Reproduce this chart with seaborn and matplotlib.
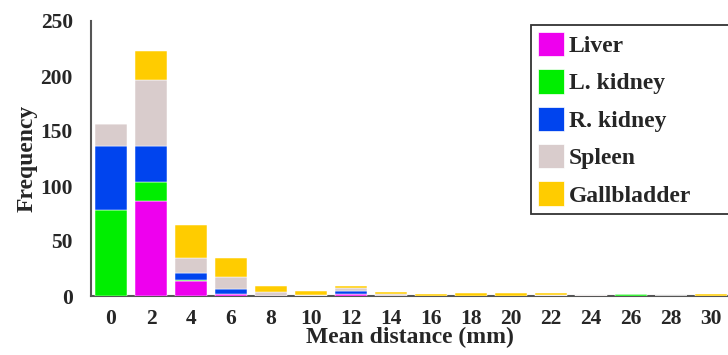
import matplotlib
matplotlib.use("Agg")
import matplotlib.pyplot as plt
from matplotlib.patches import Patch
import seaborn as sns
import pandas as pd

bins = [0, 2, 4, 6, 8, 10, 12, 14, 16, 18, 20, 22, 24, 26, 28, 30]
liver       = [0, 86, 14, 2, 0, 0, 2, 0, 0, 0, 0, 0, 0, 0, 0, 0]
l_kidney    = [78, 18, 1, 0, 0, 0, 0, 0, 0, 0, 0, 0, 0, 2, 0, 0]
r_kidney    = [58, 32, 6, 4, 0, 0, 3, 0, 0, 0, 0, 0, 0, 0, 0, 0]
spleen      = [20, 60, 14, 11, 4, 1, 2, 2, 0, 0, 0, 1, 1, 0, 0, 0]
gallbladder = [0, 27, 30, 18, 5, 4, 2, 2, 2, 3, 3, 2, 0, 0, 0, 2]

organs = ["Liver", "L. kidney", "R. kidney", "Spleen", "Gallbladder"]
colors = ["#EE00EE", "#00EE00", "#0044EE", "#D9CCCC", "#FFCC00"]
yticks = [0, 50, 100, 150, 200, 250]

rows = []
for name, vals in zip(organs, [liver, l_kidney, r_kidney, spleen, gallbladder]):
    for b, v in zip(bins, vals):
        rows.append({"bin": b, "count": v, "organ": name})
df = pd.DataFrame(rows)

sns.set_theme(style="white")
plt.rcParams["font.family"] = ["Liberation Serif", "DejaVu Serif"]
plt.rcParams["font.weight"] = "bold"

FS = 17
TFS = 15.5
fig = plt.figure(figsize=(7.28, 3.55), dpi=100)
ax = fig.add_axes([91 / 728, 59 / 355, 1 - 91 / 728, (334 - 59) / 355])

# seaborn stacks the first hue level on top, so pass the order reversed
sns.histplot(data=df, x="bin", weights="count", hue="organ",
             hue_order=organs[::-1], palette=colors[::-1], multiple="stack",
             binwidth=2, binrange=(-1, 31), shrink=0.78, edgecolor="white",
             linewidth=0.35, alpha=1, legend=False, ax=ax, zorder=3)

ax.xaxis.set_zorder(4)
ax.yaxis.set_zorder(4)
ax.set_xlim(-1, 30.85)
ax.set_ylim(0, 250)
ax.set_xticks(bins)
ax.set_yticks(yticks)
ax.tick_params(direction="in", length=5, width=1.2, color="#222222",
               labelsize=TFS)
ax.tick_params(axis="x", pad=9)
ax.tick_params(axis="y", pad=13)
for lab in ax.get_xticklabels() + ax.get_yticklabels():
    lab.set_fontweight("bold")
for s in ["top", "right"]:
    ax.spines[s].set_visible(False)
for s in ["left", "bottom"]:
    ax.spines[s].set_color("#555555")
    ax.spines[s].set_linewidth(1.5)

ax.set_xlabel("Mean distance (mm)", fontsize=FS, fontweight="bold", labelpad=-1)
ax.set_ylabel("Frequency", fontsize=FS, fontweight="bold", labelpad=2)

handles = [Patch(facecolor=c, edgecolor="white", linewidth=0.5, label=o)
           for o, c in zip(organs, colors)]
leg = ax.legend(handles=handles, loc="upper left",
                bbox_to_anchor=(531 / 728, 1 - 212 / 355, 200 / 728, 187 / 355),
                bbox_transform=fig.transFigure, mode="expand",
                borderaxespad=0, frameon=True, fancybox=False,
                fontsize=FS, handlelength=1.1, handleheight=1.2,
                handletextpad=0.2, labelspacing=0.52, borderpad=0.3,
                edgecolor="#333333", framealpha=1)
leg.get_frame().set_linewidth(1.3)
for t in leg.get_texts():
    t.set_fontweight("bold")

fig.savefig("out.png", dpi=100)
